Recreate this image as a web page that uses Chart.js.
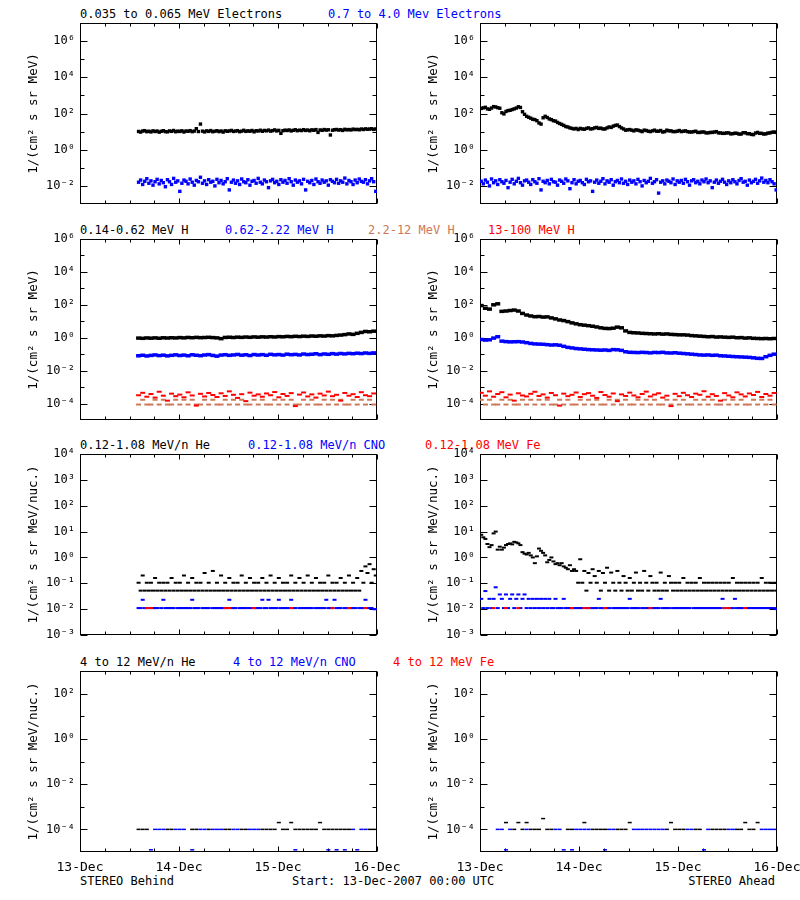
<!DOCTYPE html>
<html><head><meta charset="utf-8">
<script src="https://cdn.jsdelivr.net/npm/chart.js@4/dist/chart.umd.min.js"></script>
<style>
body{margin:0;background:#fff;width:800px;height:900px;position:relative;overflow:hidden;font-family:"DejaVu Sans Mono",monospace;font-size:12px;color:#000;}
.t{position:absolute;white-space:pre;line-height:14px;}
canvas{position:absolute;}
</style></head><body>
<div class="t" style="left:80px;top:7px">0.035 to 0.065 MeV Electrons</div>
<div class="t" style="left:328px;top:7px;color:#0000ff">0.7 to 4.0 Mev Electrons</div>
<div class="t" style="left:80px;top:223px">0.14-0.62 MeV H</div>
<div class="t" style="left:225px;top:223px;color:#0000ff">0.62-2.22 MeV H</div>
<div class="t" style="left:368px;top:223px;color:#cd785a">2.2-12 MeV H</div>
<div class="t" style="left:488px;top:223px;color:#ff0000">13-100 MeV H</div>
<div class="t" style="left:80px;top:438px">0.12-1.08 MeV/n He</div>
<div class="t" style="left:248px;top:438px;color:#0000ff">0.12-1.08 MeV/n CNO</div>
<div class="t" style="left:425px;top:438px;color:#ff0000">0.12-1.08 MeV Fe</div>
<div class="t" style="left:80px;top:655px">4 to 12 MeV/n He</div>
<div class="t" style="left:233px;top:655px;color:#0000ff">4 to 12 MeV/n CNO</div>
<div class="t" style="left:393px;top:655px;color:#ff0000">4 to 12 MeV Fe</div>
<div class="t" style="left:80px;top:874px">STEREO Behind</div>
<div class="t" style="left:292px;top:874px">Start: 13-Dec-2007 00:00 UTC</div>
<div class="t" style="right:25px;top:874px">STEREO Ahead</div>
<script>
const _ = null;
// ---- time axis (days since 13-Dec-2007 00:00 UTC) ----
const dayLabels = ['13-Dec', '14-Dec', '15-Dec', '16-Dec'];
const xTickHours = [0,6,12,18,24,30,36,42,48,54,60,66,72];
const behindStartHour = 14.2;   // STEREO Behind data begin
const aheadStartHour = 0.3;

// ---- Row 1: electrons, half-hourly ----
const eLowBehind = [10.2,9.4,10.8,11.3,9.9,10.5,9.6,11.0,10.1,10.7,9.3,10.4,
 11.2,10.0,9.7,10.9,10.3,11.5,9.8,10.6,10.2,11.1,9.5,10.8,
 10.4,11.3,9.9,10.7,14.5,10.1,26.0,10.6,9.6,11.0,10.3,11.4,
 9.8,10.5,11.2,10.0,10.8,9.4,11.1,10.4,10.9,11.6,10.2,10.7,
 11.3,9.9,10.6,11.8,10.3,11.0,10.5,11.5,9.7,11.2,10.8,11.9,
 10.4,11.6,11.0,12.1,10.6,11.3,12.4,10.9,11.7,8.0,11.2,12.0,
 11.5,12.3,10.9,11.8,12.6,11.2,12.0,11.4,12.8,11.6,12.2,11.1,
 12.5,11.8,12.9,9.0,12.3,11.7,13.0,12.1,12.6,6.5,11.9,12.7,
 13.1,12.2,12.8,11.6,13.4,12.5,13.0,12.3,13.7,12.9,13.3,12.6,
 13.9,13.0,14.2,13.4,13.8,14.4,13.2,14.0];
const eHighBehind = [0.016,0.021,0.012,0.018,0.025,0.014,0.019,0.011,0.017,0.023,0.013,0.020,
 0.015,0.009,0.022,0.017,0.012,0.026,0.016,0.019,0.005,0.014,0.021,0.018,
 0.013,0.024,0.016,0.011,0.020,0.017,0.030,0.014,0.019,0.012,0.022,0.016,
 0.018,0.010,0.023,0.015,0.020,0.013,0.017,0.025,0.006,0.016,0.021,0.014,
 0.019,0.012,0.024,0.017,0.015,0.022,0.011,0.018,0.020,0.014,0.026,0.016,
 0.013,0.021,0.017,0.008,0.019,0.023,0.015,0.018,0.012,0.022,0.016,0.020,
 0.014,0.025,0.017,0.011,0.021,0.016,0.019,0.013,0.023,0.006,0.018,0.015,
 0.020,0.012,0.024,0.017,0.014,0.021,0.016,0.019,0.011,0.022,0.018,0.015,
 0.023,0.014,0.019,0.016,0.027,0.013,0.020,0.017,0.012,0.021,0.015,0.024,
 0.018,0.016,0.022,0.013,0.019,0.025,0.017,0.005];
const eLowAhead = [190,205,220,180,170,200,240,230,210,195,110,95,
 130,145,150,165,180,200,235,215,125,90,70,62,
 55,48,46,40,30,26,58,70,60,50,46,40,
 38,32,28,25,22,19,18,16,15,14,15,13,
 15,14,13.5,15,16,14,14.5,16,17,15,15.5,14,
 14,16,18,17,20,22,23,19,16,14,12,12.5,
 13,12,11,12.5,12,11,10,12,11.5,10.5,10,11,
 12,10.5,10.5,11.5,9.5,10,12,11,11,10,10,10.5,
 11.5,10,10.5,11,10,9.5,9.5,10,10.5,9,9,9.5,
 9.5,8.5,8.5,9,9,9.5,10,8.5,8.5,8,8,8.5,
 8.5,7.5,7.7,8.2,8,7.3,7.3,8.7,8.7,7.7,7.7,7,
 6.8,8.3,9,8,8,7.3,7.5,8.3,8.5,9.2,9.5,9];
const eHighAhead = [0.018,0.013,0.021,0.016,0.010,0.024,0.015,0.019,0.012,0.022,0.017,0.014,
 0.020,0.008,0.016,0.023,0.013,0.018,0.026,0.015,0.011,0.019,0.021,0.016,
 0.012,0.022,0.017,0.014,0.025,0.006,0.018,0.015,0.020,0.013,0.023,0.017,
 0.016,0.011,0.021,0.018,0.014,0.024,0.019,0.007,0.015,0.022,0.013,0.018,
 0.020,0.015,0.012,0.023,0.017,0.019,0.005,0.016,0.021,0.014,0.018,0.025,
 0.013,0.019,0.016,0.022,0.011,0.017,0.020,0.015,0.024,0.014,0.018,0.012,
 0.021,0.016,0.019,0.013,0.023,0.017,0.010,0.020,0.015,0.018,0.026,0.014,
 0.017,0.022,0.004,0.016,0.019,0.013,0.021,0.018,0.015,0.024,0.012,0.019,
 0.016,0.020,0.014,0.023,0.017,0.011,0.019,0.022,0.015,0.018,0.013,0.021,
 0.017,0.024,0.015,0.019,0.008,0.016,0.021,0.014,0.018,0.023,0.016,0.012,
 0.019,0.015,0.022,0.017,0.013,0.020,0.025,0.016,0.018,0.011,0.021,0.015,
 0.018,0.023,0.014,0.019,0.027,0.016,0.020,0.015,0.022,0.017,0.013,0.006];

// ---- Row 2: protons, hourly ----
const hLowBehind = [0.95,0.92,0.97,0.94,0.98,0.93,0.99,0.96,1.00,0.97,
 1.02,0.98,1.04,1.00,1.05,1.01,1.03,1.06,1.02,0.98,
 0.88,1.04,1.07,1.03,1.08,1.05,1.10,1.06,1.12,1.08,
 1.13,1.10,1.15,1.11,1.17,1.14,1.20,1.16,1.22,1.18,
 1.24,1.20,1.27,1.23,1.30,1.26,1.34,1.30,1.38,1.45,
 1.55,1.70,1.60,1.85,2.10,2.40,2.30,2.50];
const hMidBehind = [0.080,0.086,0.078,0.084,0.090,0.082,0.087,0.079,0.085,0.091,
 0.083,0.088,0.080,0.092,0.086,0.081,0.089,0.094,0.084,0.076,
 0.088,0.093,0.085,0.090,0.096,0.087,0.092,0.083,0.095,0.089,
 0.094,0.086,0.098,0.091,0.095,0.088,0.100,0.093,0.097,0.090,
 0.102,0.095,0.099,0.106,0.094,0.103,0.098,0.108,0.101,0.110,
 0.104,0.112,0.107,0.115,0.109,0.118,0.112,0.120];
const hHighBehind = [8.7e-5,1.7e-4,8.7e-5,8.7e-5,1.7e-4,8.7e-5,1.7e-4,8.7e-5,8.7e-5,1.7e-4,
 8.7e-5,1.7e-4,8.7e-5,1.7e-4,8.7e-5,8.7e-5,1.7e-4,8.7e-5,1.7e-4,8.7e-5,
 8.7e-5,1.7e-4,8.7e-5,1.7e-4,8.7e-5,1.7e-4,8.7e-5,8.7e-5,1.7e-4,8.7e-5,
 1.7e-4,8.7e-5,8.7e-5,1.7e-4,8.7e-5,1.7e-4,8.7e-5,1.7e-4,8.7e-5,8.7e-5,
 1.7e-4,8.7e-5,1.7e-4,8.7e-5,8.7e-5,1.7e-4,8.7e-5,1.7e-4,8.7e-5,1.7e-4,
 8.7e-5,8.7e-5,1.7e-4,8.7e-5,1.7e-4,8.7e-5,1.7e-4,8.7e-5];
const hVHighBehind = [3.2e-4,4.5e-4,2.6e-4,3.8e-4,2.3e-4,5.2e-4,3.0e-4,1.5e-4,4.0e-4,2.8e-4,
 3.5e-4,2.4e-4,4.8e-4,3.1e-4,7.5e-5,3.9e-4,2.7e-4,4.4e-4,3.3e-4,2.5e-4,
 4.2e-4,2.9e-4,5.5e-4,3.4e-4,2.2e-4,3.7e-4,1.4e-4,4.6e-4,3.0e-4,3.6e-4,
 2.6e-4,4.1e-4,3.2e-4,5.0e-4,2.4e-4,3.8e-4,2.9e-4,4.3e-4,7.0e-5,3.5e-4,
 4.7e-4,2.7e-4,3.6e-4,2.3e-4,4.0e-4,3.1e-4,5.3e-4,2.8e-4,3.4e-4,1.5e-4,
 4.4e-4,3.0e-4,3.7e-4,2.5e-4,4.9e-4,3.2e-4,2.8e-4,4.1e-4];
const hLowAhead = [90,62,55,100,115,40,42,45,48,42,30,24,
 21,19,19.5,18,18.5,16,14,12,11,9.5,8,7,
 6.2,5.8,5.4,5.0,4.5,4.0,3.7,3.6,3.8,4.4,4.0,2.6,
 2.1,2.0,1.95,1.85,1.8,1.75,1.7,1.75,1.65,1.7,1.6,1.55,
 1.5,1.5,1.45,1.35,1.3,1.25,1.2,1.15,1.18,1.1,1.12,1.08,
 1.05,1.08,1.0,1.02,0.95,0.98,0.92,0.9,0.88,0.9,0.87,0.9];
const hMidAhead = [0.78,0.72,0.75,0.95,1.15,0.62,0.58,0.56,0.57,0.58,0.55,0.50,
 0.45,0.42,0.41,0.40,0.38,0.36,0.37,0.35,0.30,0.26,0.24,0.22,
 0.21,0.20,0.19,0.185,0.18,0.175,0.18,0.17,0.19,0.185,0.17,0.14,
 0.13,0.128,0.125,0.13,0.126,0.12,0.128,0.125,0.13,0.12,0.118,0.122,
 0.115,0.11,0.105,0.10,0.095,0.09,0.088,0.09,0.085,0.087,0.08,0.078,
 0.075,0.072,0.07,0.068,0.066,0.064,0.06,0.056,0.055,0.07,0.085,0.10];
const hHighAhead = [1.7e-4,8.7e-5,1.7e-4,8.7e-5,8.7e-5,1.7e-4,8.7e-5,1.7e-4,8.7e-5,8.7e-5,1.7e-4,8.7e-5,
 1.7e-4,8.7e-5,1.7e-4,8.7e-5,1.7e-4,8.7e-5,8.7e-5,1.7e-4,8.7e-5,1.7e-4,8.7e-5,8.7e-5,
 1.7e-4,8.7e-5,1.7e-4,8.7e-5,1.7e-4,8.7e-5,8.7e-5,1.7e-4,8.7e-5,1.7e-4,8.7e-5,1.7e-4,
 8.7e-5,8.7e-5,1.7e-4,8.7e-5,1.7e-4,8.7e-5,1.7e-4,8.7e-5,8.7e-5,1.7e-4,8.7e-5,1.7e-4,
 8.7e-5,1.7e-4,8.7e-5,8.7e-5,1.7e-4,8.7e-5,1.7e-4,8.7e-5,1.7e-4,8.7e-5,8.7e-5,1.7e-4,
 8.7e-5,1.7e-4,8.7e-5,1.7e-4,8.7e-5,8.7e-5,1.7e-4,8.7e-5,1.7e-4,8.7e-5,1.7e-4,8.7e-5];
const hVHighAhead = [4.5e-4,3.0e-4,5.5e-4,2.6e-4,3.8e-4,4.9e-4,2.4e-4,3.5e-4,1.5e-4,4.2e-4,3.1e-4,2.7e-4,
 3.9e-4,5.2e-4,2.9e-4,3.6e-4,2.3e-4,4.4e-4,3.2e-4,7.5e-5,4.0e-4,2.8e-4,3.4e-4,4.7e-4,
 2.5e-4,3.7e-4,4.3e-4,3.0e-4,2.2e-4,5.0e-4,3.3e-4,2.6e-4,4.1e-4,1.4e-4,3.6e-4,2.9e-4,
 4.6e-4,3.1e-4,2.4e-4,3.8e-4,5.3e-4,2.7e-4,3.5e-4,4.2e-4,2.3e-4,3.0e-4,7.0e-5,3.9e-4,
 2.8e-4,4.5e-4,3.2e-4,2.5e-4,4.0e-4,3.4e-4,5.6e-4,2.6e-4,3.7e-4,2.9e-4,1.5e-4,4.3e-4,
 3.1e-4,2.4e-4,4.8e-4,3.6e-4,2.7e-4,4.1e-4,3.3e-4,5.1e-4,2.5e-4,3.8e-4,3.0e-4,4.4e-4];

// ---- Row 3: 0.12-1.08 MeV/n ions; He and CNO half-hourly, Fe hourly ----
const heLoBehind = [0.105,0.052,0.2,0.052,0.105,0.052,0.105,0.052,0.16,0.052,0.105,0.052,
 0.105,0.052,0.105,0.052,0.16,0.052,0.105,0.052,0.105,0.052,0.2,0.052,
 0.105,0.052,0.16,0.052,0.105,0.052,0.105,0.052,0.25,0.052,0.105,0.052,
 0.3,0.052,0.105,0.052,0.2,0.052,0.105,0.052,0.16,0.052,0.105,0.052,
 0.105,0.052,0.2,0.052,0.105,0.052,0.16,0.052,0.105,0.052,0.105,0.052,
 0.16,0.052,0.105,0.052,0.2,0.052,0.105,0.052,0.16,0.052,0.105,0.052,
 0.105,0.052,0.2,0.052,0.105,0.052,0.16,0.052,0.105,0.052,0.2,0.052,
 0.105,0.052,0.16,0.052,0.105,0.052,0.105,0.052,0.2,0.052,0.105,0.052,
 0.105,0.052,0.16,0.052,0.105,0.052,0.2,0.052,0.105,0.052,0.16,0.052,
 0.3,0.105,0.45,0.25,0.55,0.105,0.35,0.2];
const cnoLoBehind = [0.011,0.011,0.023,0.011,0.011,_,0.011,0.011,0.011,0.011,_,0.011,
 0.023,0.011,0.011,0.011,0.011,0.011,_,0.011,0.011,0.011,0.011,0.011,
 0.011,0.011,0.023,0.011,0.011,0.011,_,0.011,0.011,0.011,0.011,_,
 0.011,0.011,0.011,0.011,0.011,0.011,0.011,0.011,0.023,0.011,0.011,0.011,
 _,0.011,0.011,0.011,0.011,0.011,0.011,_,0.011,0.011,0.011,0.011,
 0.023,0.011,0.011,0.023,0.011,0.011,0.011,0.011,0.023,0.011,0.011,0.011,
 0.011,0.011,0.023,0.011,0.011,_,0.011,0.011,0.011,0.011,0.011,0.011,
 0.011,_,0.011,0.011,0.011,0.011,0.011,0.023,0.011,0.011,0.011,0.023,
 0.011,0.011,0.011,_,0.011,0.011,0.011,0.011,0.011,0.011,_,0.011,
 0.011,0.011,0.023,0.011,0.011,0.011,0.010,0.010];
const feLoBehind = [_,_,0.011,0.011,_,_,_,_,_,_,
 _,_,_,_,_,_,_,_,_,_,
 _,0.011,0.011,_,_,_,_,_,0.011,_,
 _,_,_,_,_,_,_,0.011,_,_,
 _,_,_,_,_,_,_,0.011,_,_,
 _,0.011,_,_,_,0.011,_,_];
const heLoAhead = [7.5,6.0,5.2,3.3,2.5,3.0,8.5,10.0,2.0,2.6,2.0,2.4,
 3.0,3.3,3.5,3.2,4.0,3.8,3.5,3.0,1.6,1.4,1.3,1.5,
 1.2,1.0,0.6,1.1,2.2,1.8,1.5,1.2,0.65,0.8,1.0,0.7,
 0.55,0.6,0.5,0.6,0.45,0.4,0.35,0.5,0.3,0.35,0.3,0.105,
 0.85,0.105,0.3,0.052,0.25,0.105,0.35,0.19,0.105,0.3,0.052,0.25,
 0.105,0.4,0.052,0.26,0.105,0.052,0.3,0.105,0.052,0.19,0.105,0.052,
 0.16,0.052,0.105,0.26,0.052,0.105,0.052,0.3,0.105,0.052,0.19,0.105,
 0.052,0.105,0.052,0.26,0.052,0.105,0.052,0.19,0.105,0.052,0.105,0.052,
 0.105,0.052,0.16,0.052,0.105,0.052,0.105,0.052,0.105,0.052,0.16,0.052,
 0.105,0.052,0.105,0.052,0.105,0.052,0.105,0.052,0.105,0.052,0.105,0.052,
 0.105,0.052,0.16,0.052,0.105,0.052,0.105,0.052,0.105,0.052,0.105,0.052,
 0.105,0.052,0.105,0.052,0.16,0.052,0.105,0.052,0.105,0.052,0.105,0.052];
const cnoLoAhead = [0.025,0.011,0.05,0.011,0.025,0.011,0.025,0.07,0.011,0.037,0.025,0.011,
 0.037,0.011,0.025,0.037,0.011,0.025,0.037,0.011,0.025,0.037,0.011,0.025,
 0.011,0.025,0.011,0.025,0.011,0.025,0.011,0.025,0.011,0.025,0.011,0.011,
 0.025,0.011,0.011,0.011,0.025,0.011,0.011,0.011,0.011,0.011,0.011,0.011,
 0.011,0.011,_,0.011,0.011,0.011,0.011,0.011,0.011,0.025,0.011,0.011,
 0.011,0.011,0.011,_,0.011,0.011,0.011,0.011,0.011,0.011,0.011,0.011,
 0.025,0.011,0.011,0.011,0.011,_,0.011,0.011,0.011,0.011,0.011,0.011,
 0.011,0.011,0.011,0.025,0.011,0.011,0.011,0.011,_,0.011,0.011,0.011,
 0.011,0.011,0.011,0.011,0.011,0.011,_,0.011,0.011,0.011,0.011,0.011,
 0.011,0.011,0.011,0.011,0.011,0.011,0.011,0.011,0.011,0.025,0.011,_,
 0.011,0.011,0.011,0.025,0.011,0.011,0.011,0.011,_,0.011,0.011,0.011,
 0.011,0.011,0.011,0.011,0.011,0.011,0.011,0.011,0.011,0.011,0.011,0.010];
const feLoAhead = [_,_,_,0.011,_,_,0.011,_,_,0.011,_,_,
 _,_,_,_,_,_,_,_,_,_,0.011,_,
 _,0.011,0.011,_,_,_,0.011,_,_,_,_,_,
 _,_,_,_,_,0.011,_,_,_,_,_,_,
 _,_,_,_,_,_,_,_,_,_,_,0.011,
 0.011,_,_,_,0.011,_,_,_,_,_,_,_];

// ---- Row 4: 4-12 MeV/n ions, hourly ----
const heHiBehind = [1e-4,1e-4,1e-4,_,_,_,_,1e-4,1e-4,_,
 _,_,_,1e-4,1e-4,_,_,1e-4,_,_,
 _,1e-4,1e-4,_,_,1e-4,1e-4,_,_,_,
 1e-4,1e-4,1e-4,1e-4,2e-4,1e-4,1e-4,2e-4,1e-4,1e-4,
 1e-4,1e-4,1e-4,1e-4,2e-4,1e-4,1e-4,1e-4,1e-4,1e-4,
 1e-4,1e-4,_,_,_,_,1e-4,1e-4];
const cnoHiBehind = [_,_,_,1.25e-5,1e-4,1e-4,1e-4,_,_,1e-4,
 1e-4,1e-4,_,1.25e-5,_,1e-4,1e-4,_,1e-4,1e-4,
 1e-4,_,_,1e-4,1e-4,_,_,1e-4,1e-4,1e-4,
 _,_,_,_,_,_,_,_,1.25e-5,_,
 _,_,_,_,_,_,1.25e-5,_,1.25e-5,_,
 1.25e-5,_,1e-4,1.25e-5,1e-4,1e-4,_,_];
const feHiBehind = [];
const heHiAhead = [_,_,_,_,_,_,2e-4,_,1e-4,2e-4,1e-4,2e-4,
 1e-4,1e-4,1e-4,3e-4,1e-4,1e-4,_,_,_,1e-4,1e-4,_,
 _,2e-4,_,1e-4,1e-4,1e-4,1e-4,_,_,1e-4,1e-4,1e-4,
 2e-4,_,_,_,_,_,_,_,_,1e-4,2e-4,1e-4,
 1e-4,1e-4,_,_,1e-4,1e-4,_,_,1e-4,1e-4,1e-4,1e-4,
 _,_,1e-4,1e-4,2e-4,1e-4,1e-4,2e-4,_,_,_,_];
const cnoHiAhead = [_,_,_,_,1e-4,1e-4,1.25e-5,1e-4,_,_,_,1e-4,
 _,_,_,_,_,_,1e-4,1e-4,1.25e-5,_,1.25e-5,1e-4,
 1e-4,1e-4,1e-4,_,_,_,1.25e-5,1e-4,1e-4,_,_,_,
 _,1e-4,1e-4,1e-4,1e-4,1e-4,1e-4,1e-4,1e-4,_,_,_,
 _,_,1e-4,1e-4,_,_,1.25e-5,1e-4,_,_,_,_,
 1e-4,1e-4,_,_,_,_,_,_,1e-4,1e-4,1e-4,1e-4];
const feHiAhead = [];

// ---- axes ----
const yRanges = [[1e-3,1e7],[1e-5,1e6],[1e-3,1e4],[1e-5,1e3]];
const yMajorTicks = [[1e6,1e4,1e2,1,1e-2],[1e6,1e4,1e2,1,1e-2,1e-4],[1e4,1e3,1e2,1e1,1,1e-1,1e-2,1e-3],[1e2,1,1e-2,1e-4]];
const yMinorTicks = [[1e5,1e3,1e1,1e-1],[1e5,1e3,1e1,1e-1,1e-3],[],[1e1,1e-1,1e-3]];
const yTitles = ['1/(cm\u00B2 s sr MeV)','1/(cm\u00B2 s sr MeV)','1/(cm\u00B2 s sr MeV/nuc.)','1/(cm\u00B2 s sr MeV/nuc.)'];
const rowTops = [23, 239, 454, 671];

const BLACK='#000000', BLUE='#0000ff', SALMON='#cd785a', RED='#ff0000';
const FONT = 'DejaVu Sans Mono';
Chart.defaults.font.family = FONT;

const SUP = {'0':'\u2070','1':'\u00B9','2':'\u00B2','3':'\u00B3','4':'\u2074','5':'\u2075','6':'\u2076','7':'\u2077','8':'\u2078','9':'\u2079','-':'\u207B'};
function logLabel(v){
  const e = Math.round(Math.log10(v));
  return '10' + String(e).split('').map(c => SUP[c]).join('');
}

function series(values, startHour, stepHours, color, style, r, w){
  return {
    data: values.map((v,i) => ({x:(startHour + i*stepHours)/24, y:v})),
    showLine:false, pointStyle:style, pointRadius:r, pointHoverRadius:r,
    pointBorderWidth:w, pointBorderColor:color, pointBackgroundColor:color,
    borderColor:color, backgroundColor:color
  };
}

function framePlugin(major, minor){
  return {
    id:'idlFrame',
    beforeDatasetsDraw(chart){
      const {ctx, chartArea:a, scales:{x, y}} = chart;
      ctx.save();
      ctx.strokeStyle = '#000'; ctx.lineWidth = 1;
      const L = Math.round(a.left)+0.5, R = Math.round(a.right)-0.5;
      const T = Math.round(a.top)+0.5, B = Math.round(a.bottom)-0.5;
      ctx.strokeRect(L, T, R-L, B-T);
      ctx.beginPath();
      xTickHours.forEach(h => {
        const px = Math.round(x.getPixelForValue(h/24)) + 0.5;
        const len = (h % 24 === 0) ? 5 : 3;
        ctx.moveTo(px, B); ctx.lineTo(px, B-len);
        ctx.moveTo(px, T); ctx.lineTo(px, T+len);
      });
      const yt = (v, len) => {
        const py = Math.round(y.getPixelForValue(v)) + 0.5;
        ctx.moveTo(L, py); ctx.lineTo(L+len, py);
        ctx.moveTo(R, py); ctx.lineTo(R-len, py);
      };
      major.forEach(v => yt(v, 7));
      minor.forEach(v => yt(v, 4));
      ctx.stroke();
      ctx.restore();
    }
  };
}

function makePanel(row, col, datasets){
  const bottom = row === 3;
  const cv = document.createElement('canvas');
  const W = 400, H = 15 + 181 + (bottom ? 40 : 15);
  cv.width = W; cv.height = H;
  cv.style.left = (col*400) + 'px';
  cv.style.top = (rowTops[row] - 15) + 'px';
  cv.style.width = W + 'px'; cv.style.height = H + 'px';
  document.body.appendChild(cv);
  datasets.forEach((d,i) => { d.order = -i; });
  new Chart(cv, {
    type:'scatter',
    data:{datasets},
    options:{
      responsive:false, animation:false, events:[],
      layout:{padding:{top:15, right:23, bottom: bottom ? 0 : 15, left:0}},
      plugins:{legend:{display:false}, tooltip:{enabled:false}},
      scales:{
        x:{type:'linear', min:0, max:3, display:bottom,
           grid:{display:false, drawTicks:false}, border:{display:false},
           afterBuildTicks: s => { s.ticks = dayLabels.map((_l,i) => ({value:i})); },
           afterFit: s => { if (bottom) { s.height = 40; s.paddingLeft = 0; s.paddingRight = 0; } },
           ticks:{autoSkip:false, maxRotation:0, minRotation:0, padding:8, color:'#000',
                  font:{family:FONT, size:13}, callback: v => dayLabels[Math.round(v)]}},
        y:{type:'logarithmic', min:yRanges[row][0], max:yRanges[row][1],
           grid:{display:false, drawTicks:false}, border:{display:false},
           afterBuildTicks: s => { s.ticks = yMajorTicks[row].map(v => ({value:v})); },
           afterFit: s => { s.width = 80; s.paddingTop = 0; s.paddingBottom = 0; },
           ticks:{autoSkip:false, padding:5, color:'#000', font:{family:FONT, size:12},
                  callback: v => logLabel(v)},
           title:{display:true, text:yTitles[row], color:'#000',
                  font:{family:FONT, size:12.5}, padding:{top:26, bottom:0}}}
      }
    },
    plugins:[framePlugin(yMajorTicks[row], yMinorTicks[row])]
  });
}

const B = behindStartHour, A = aheadStartHour;
makePanel(0,0,[series(eLowBehind,B,0.5,BLACK,'rect',2.4,0), series(eHighBehind,B,0.5,BLUE,'rect',2.4,0)]);
makePanel(0,1,[series(eLowAhead,A,0.5,BLACK,'rect',2.4,0), series(eHighAhead,A,0.5,BLUE,'rect',2.4,0)]);
makePanel(1,0,[series(hLowBehind,B,1,BLACK,'line',2.5,3.5), series(hMidBehind,B,1,BLUE,'line',2.5,3.5),
               series(hHighBehind,B,1,SALMON,'line',2.5,2), series(hVHighBehind,B,1,RED,'line',2.5,2)]);
makePanel(1,1,[series(hLowAhead,A,1,BLACK,'line',2.5,3.5), series(hMidAhead,A,1,BLUE,'line',2.5,3.5),
               series(hHighAhead,A,1,SALMON,'line',2.5,2), series(hVHighAhead,A,1,RED,'line',2.5,2)]);
makePanel(2,0,[series(heLoBehind,B,0.5,BLACK,'line',2,2), series(cnoLoBehind,B,0.5,BLUE,'line',2,2), series(feLoBehind,B,1,RED,'line',2,2)]);
makePanel(2,1,[series(heLoAhead,A,0.5,BLACK,'line',2,2), series(cnoLoAhead,A,0.5,BLUE,'line',2,2), series(feLoAhead,A,1,RED,'line',2,2)]);
makePanel(3,0,[series(heHiBehind,B,1,BLACK,'line',2,1.5), series(cnoHiBehind,B,1,BLUE,'line',2,1.5), series(feHiBehind,B,1,RED,'line',2,1.5)]);
makePanel(3,1,[series(heHiAhead,A,1,BLACK,'line',2,1.5), series(cnoHiAhead,A,1,BLUE,'line',2,1.5), series(feHiAhead,A,1,RED,'line',2,1.5)]);
</script>
</body></html>
